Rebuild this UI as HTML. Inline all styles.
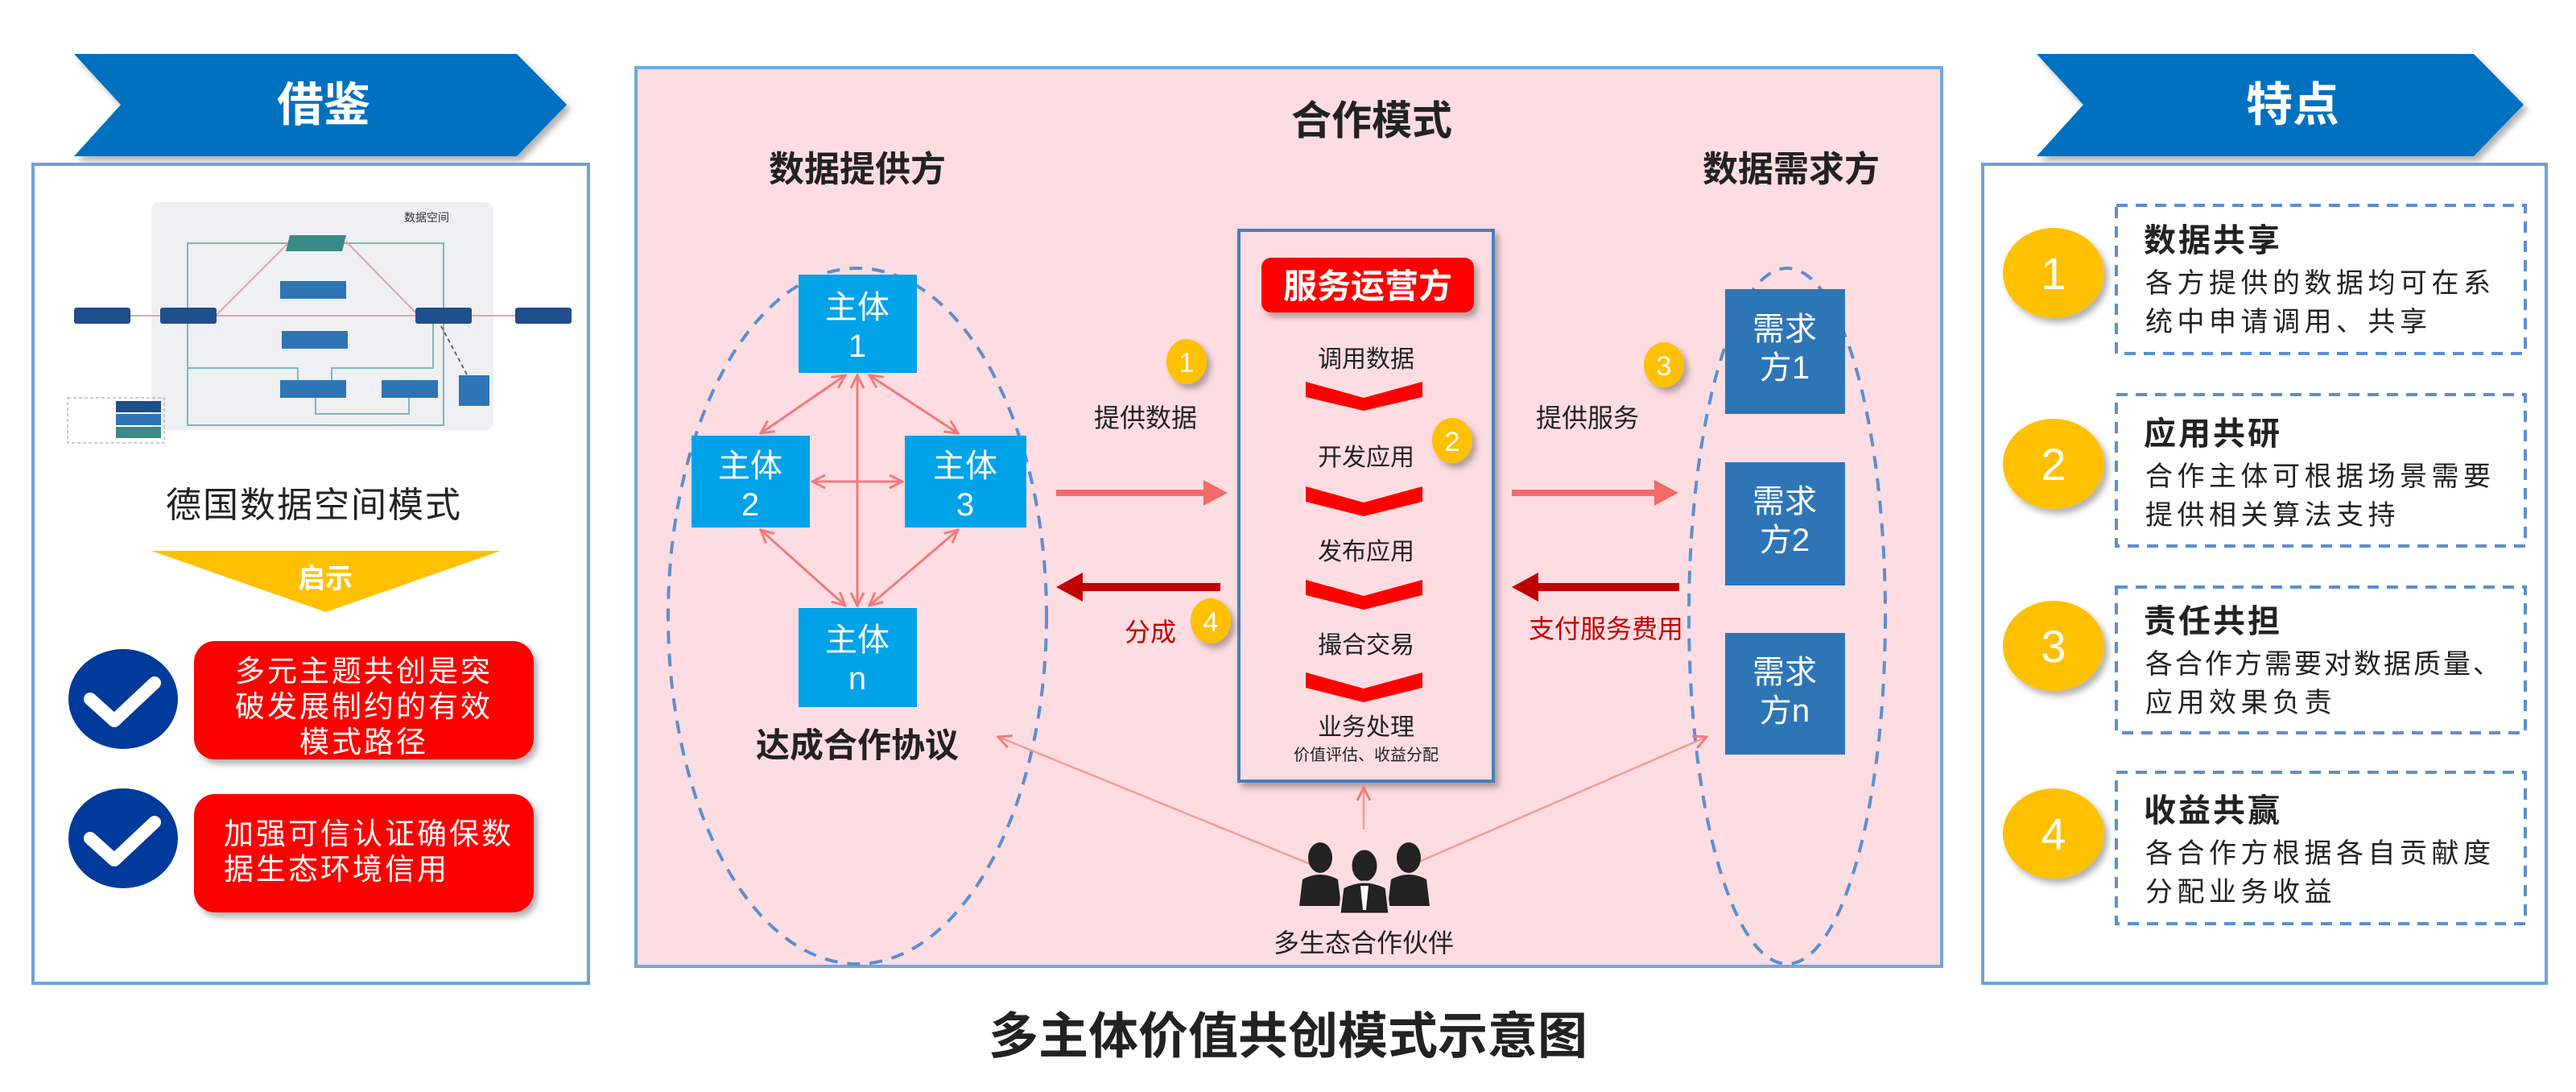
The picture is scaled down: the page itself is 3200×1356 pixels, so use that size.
<!DOCTYPE html>
<html><head><meta charset="utf-8"><style>
html,body{margin:0;padding:0;background:#fff;width:3200px;height:1356px;overflow:hidden}
svg text{font-family:"Liberation Sans","Noto Sans CJK SC",sans-serif}
</style></head><body>
<svg width="3200" height="1356" viewBox="0 0 3200 1356" xmlns="http://www.w3.org/2000/svg">
<defs>
<marker id="aps" markerWidth="20" markerHeight="20" refX="18" refY="10" orient="auto-start-reverse" markerUnits="userSpaceOnUse"><path d="M2,2 L18,10 L2,18" fill="none" stroke="#f07a7a" stroke-width="3"/></marker>
<filter id="sh" x="-10%" y="-10%" width="130%" height="140%"><feDropShadow dx="5" dy="6" stdDeviation="4" flood-color="#000" flood-opacity="0.3"/></filter>
</defs>

<!-- Left banner -->
<polygon points="92,67 642,67 704,130 642,194 92,194 150,130" fill="#0070c0" filter="url(#sh)"/>
<text x="402" y="150" font-size="58" font-weight="bold" fill="#fff" text-anchor="middle">借鉴</text>
<rect x="41" y="204" width="690" height="1017" fill="#fff" stroke="#6fa2d8" stroke-width="4"/>

<!-- German diagram thumbnail -->
<rect x="188" y="251" width="425" height="283" rx="10" fill="#eef0f2"/>
<text x="530" y="275" font-size="14" fill="#333" text-anchor="middle">数据空间</text>
<g fill="none" stroke="#7fb7b7" stroke-width="2">
<rect x="233" y="302" width="318" height="226"/>
<polyline points="233,457 370,457 370,478"/>
<polyline points="412,478 412,457 538,457 538,400"/>
<polyline points="392,494 392,514 508,514 508,494"/>
</g>
<g stroke="#e6a0b0" stroke-width="2">
<line x1="162" y1="392" x2="680" y2="392"/>
<line x1="268" y1="392" x2="360" y2="300"/>
<line x1="430" y1="300" x2="520" y2="392"/>
</g>
<line x1="548" y1="405" x2="580" y2="465" stroke="#666" stroke-width="2" stroke-dasharray="5,4"/>
<g fill="#1f4e8c">
<rect x="92" y="382" width="70" height="20" rx="3"/>
<rect x="199" y="382" width="70" height="20" rx="3"/>
<rect x="516" y="382" width="70" height="20" rx="3"/>
<rect x="640" y="382" width="70" height="20" rx="3"/>
<rect x="348" y="349" width="82" height="22" fill="#2e75b6"/>
<rect x="350" y="411" width="82" height="22" fill="#2e75b6"/>
<rect x="348" y="472" width="82" height="22" fill="#2e75b6"/>
<rect x="474" y="472" width="70" height="22" fill="#2e75b6"/>
<rect x="570" y="466" width="38" height="38" fill="#2e75b6"/>
<polygon points="360,292 430,292 425,312 355,312" fill="#3a8a8a"/>
</g>
<rect x="84" y="494" width="120" height="56" fill="none" stroke="#999" stroke-dasharray="4,3"/>
<rect x="144" y="498" width="56" height="14" fill="#1f4e8c"/><rect x="144" y="514" width="56" height="14" fill="#2e75b6"/><rect x="144" y="530" width="56" height="14" fill="#3a8a8a"/>

<text x="390" y="642" font-size="44" letter-spacing="2" fill="#222" text-anchor="middle">德国数据空间模式</text>
<polygon points="188,684 622,684 405,760" fill="#ffc000"/>
<text x="404" y="730" font-size="34" font-weight="bold" fill="#fff" text-anchor="middle">启示</text>

<ellipse cx="153" cy="868" rx="68" ry="62" fill="#003a9b"/>
<polyline points="112,868 142,895 192,848" fill="none" stroke="#fff" stroke-width="16" stroke-linecap="round" stroke-linejoin="round"/>
<ellipse cx="153" cy="1041" rx="68" ry="62" fill="#003a9b"/>
<polyline points="112,1041 142,1068 192,1021" fill="none" stroke="#fff" stroke-width="16" stroke-linecap="round" stroke-linejoin="round"/>
<rect x="241" y="796" width="422" height="147" rx="26" fill="#f00" filter="url(#sh)"/>
<text font-size="37" letter-spacing="3" fill="#fff" text-anchor="middle"><tspan x="452" y="846">多元主题共创是突</tspan><tspan x="452" y="890">破发展制约的有效</tspan><tspan x="452" y="934">模式路径</tspan></text>
<rect x="241" y="986" width="422" height="147" rx="26" fill="#f00" filter="url(#sh)"/>
<text font-size="37" letter-spacing="3" fill="#fff"><tspan x="278" y="1048">加强可信认证确保数</tspan><tspan x="278" y="1092">据生态环境信用</tspan></text>

<!-- Middle panel -->
<rect x="790" y="84" width="1622" height="1116" fill="#fddde2" stroke="#6fa8dc" stroke-width="4"/>
<text x="1704" y="167" font-size="50" font-weight="bold" fill="#222" text-anchor="middle">合作模式</text>
<text x="1065" y="225" font-size="44" font-weight="bold" fill="#222" text-anchor="middle">数据提供方</text>
<text x="2225" y="225" font-size="44" font-weight="bold" fill="#222" text-anchor="middle">数据需求方</text>

<ellipse cx="1065" cy="765" rx="235" ry="432" fill="none" stroke="#5b8fd0" stroke-width="4" stroke-dasharray="16,12"/>
<ellipse cx="2220" cy="765" rx="122" ry="432" fill="none" stroke="#5b8fd0" stroke-width="4" stroke-dasharray="16,12"/>

<g stroke="#f07a7a" stroke-width="3" marker-end="url(#aps)" marker-start="url(#aps)">
<line x1="1065" y1="466" x2="1065" y2="752"/>
<line x1="1050" y1="466" x2="945" y2="538"/>
<line x1="1080" y1="466" x2="1190" y2="538"/>
<line x1="1009" y1="598" x2="1121" y2="598"/>
<line x1="945" y1="658" x2="1050" y2="752"/>
<line x1="1190" y1="658" x2="1080" y2="752"/>
</g>
<g fill="#00a2e8">
<rect x="992" y="341" width="147" height="122"/>
<rect x="859" y="541" width="147" height="114"/>
<rect x="1124" y="541" width="151" height="114"/>
<rect x="992" y="755" width="147" height="123"/>
</g>
<g font-size="40" fill="#fff" text-anchor="middle">
<text x="1065" y="395">主体</text><text x="1065" y="443">1</text>
<text x="932" y="592">主体</text><text x="932" y="640">2</text>
<text x="1199" y="592">主体</text><text x="1199" y="640">3</text>
<text x="1065" y="808">主体</text><text x="1065" y="856">n</text>
</g>
<text x="1065" y="940" font-size="42" font-weight="bold" fill="#222" text-anchor="middle">达成合作协议</text>

<!-- service box -->
<rect x="1539" y="286" width="316" height="684" fill="#fddde2" stroke="#4a7ebb" stroke-width="4" filter="url(#sh)"/>
<rect x="1567" y="320" width="264" height="68" rx="12" fill="#f00" filter="url(#sh)"/>
<text x="1699" y="370" font-size="42" font-weight="bold" fill="#fff" text-anchor="middle">服务运营方</text>
<g font-size="30" fill="#222" text-anchor="middle">
<text x="1697" y="456">调用数据</text>
<text x="1697" y="578">开发应用</text>
<text x="1697" y="695">发布应用</text>
<text x="1697" y="811">撮合交易</text>
<text x="1697" y="913">业务处理</text>
</g>
<text x="1697" y="944" font-size="20" fill="#222" text-anchor="middle">价值评估、收益分配</text>
<g fill="#f00">
<polygon points="1622,474 1694,494 1767,474 1767,493 1694,510 1622,493"/>
<polygon points="1622,604 1694,624 1767,604 1767,623 1694,641 1622,623"/>
<polygon points="1622,720 1694,740 1767,720 1767,739 1694,757 1622,739"/>
<polygon points="1622,835 1694,855 1767,835 1767,854 1694,872 1622,854"/>
</g>

<!-- flow arrows -->
<line x1="1312" y1="612" x2="1500" y2="612" stroke="#f46a6a" stroke-width="8"/>
<polygon points="1495,596 1525,612 1495,628" fill="#f46a6a"/>
<text x="1423" y="530" font-size="32" fill="#222" text-anchor="middle">提供数据</text>
<line x1="1878" y1="612" x2="2060" y2="612" stroke="#f46a6a" stroke-width="8"/>
<polygon points="2055,596 2085,612 2055,628" fill="#f46a6a"/>
<text x="1972" y="530" font-size="32" fill="#222" text-anchor="middle">提供服务</text>
<line x1="1340" y1="729" x2="1516" y2="729" stroke="#c00000" stroke-width="10"/>
<polygon points="1345,711 1312,729 1345,747" fill="#c00000"/>
<text x="1429" y="796" font-size="32" fill="#c00000" text-anchor="middle">分成</text>
<line x1="1906" y1="729" x2="2086" y2="729" stroke="#c00000" stroke-width="10"/>
<polygon points="1911,711 1878,729 1911,747" fill="#c00000"/>
<text x="1995" y="792" font-size="32" fill="#c00000" text-anchor="middle">支付服务费用</text>

<!-- numbered circles -->
<g filter="url(#sh)" fill="#ffc000">
<ellipse cx="1474" cy="449" rx="25" ry="28"/>
<ellipse cx="1804" cy="547" rx="25" ry="28"/>
<ellipse cx="2067" cy="453" rx="25" ry="28"/>
<ellipse cx="1504" cy="771" rx="25" ry="28"/>
</g>
<g font-size="34" fill="#fff" text-anchor="middle">
<text x="1474" y="462">1</text><text x="1804" y="560">2</text><text x="2067" y="466">3</text><text x="1504" y="784">4</text>
</g>

<!-- demand boxes -->
<g fill="#2e75b6">
<rect x="2143" y="359" width="149" height="155"/>
<rect x="2143" y="574" width="149" height="153"/>
<rect x="2143" y="786" width="149" height="151"/>
</g>
<g font-size="40" fill="#fff" text-anchor="middle">
<text x="2217" y="422">需求</text><text x="2217" y="470">方1</text>
<text x="2217" y="636">需求</text><text x="2217" y="684">方2</text>
<text x="2217" y="848">需求</text><text x="2217" y="896">方n</text>
</g>

<!-- partner lines -->
<g stroke="#f29a9a" stroke-width="2.5" fill="none">
<line x1="1645" y1="1080" x2="1240" y2="915" marker-end="url(#aps)"/>
<line x1="1740" y1="1080" x2="2120" y2="915" marker-end="url(#aps)"/>
<line x1="1694" y1="1030" x2="1694" y2="978" marker-end="url(#aps)"/>
</g>
<!-- people icon -->
<g fill="#222">
<ellipse cx="1640" cy="1065" rx="15" ry="19"/>
<ellipse cx="1750" cy="1065" rx="15" ry="19"/>
<path d="M1614,1125 L1618,1092 Q1640,1080 1662,1092 L1666,1125Z"/>
<path d="M1724,1125 L1728,1092 Q1750,1080 1772,1092 L1776,1125Z"/>
<ellipse cx="1695" cy="1075" rx="17" ry="21" stroke="#fddde2" stroke-width="3"/>
<path d="M1664,1135 L1668,1102 Q1695,1088 1722,1102 L1726,1135Z" stroke="#fddde2" stroke-width="3"/>
</g>
<polygon points="1690,1100 1700,1100 1697,1130 1693,1130" fill="#fff"/>
<text x="1694" y="1182" font-size="32" fill="#222" text-anchor="middle">多生态合作伙伴</text>

<!-- Right banner -->
<polygon points="2530,67 3073,67 3135,130 3073,194 2530,194 2588,130" fill="#0070c0" filter="url(#sh)"/>
<text x="2848" y="150" font-size="58" font-weight="bold" fill="#fff" text-anchor="middle">特点</text>
<rect x="2463" y="204" width="700" height="1017" fill="#fff" stroke="#6fa2d8" stroke-width="4"/>

<g fill="none" stroke="#5b8fd0" stroke-width="4" stroke-dasharray="14,10">
<rect x="2629" y="255" width="508" height="184"/>
<rect x="2629" y="490" width="508" height="188"/>
<rect x="2629" y="729" width="508" height="181"/>
<rect x="2629" y="959" width="508" height="188"/>
</g>
<g fill="#ffc000" filter="url(#sh)">
<ellipse cx="2551" cy="339" rx="63" ry="56"/>
<ellipse cx="2551" cy="576" rx="63" ry="56"/>
<ellipse cx="2551" cy="802" rx="63" ry="56"/>
<ellipse cx="2551" cy="1035" rx="63" ry="56"/>
</g>
<g font-size="56" fill="#fff" text-anchor="middle">
<text x="2551" y="359">1</text><text x="2551" y="596">2</text><text x="2551" y="822">3</text><text x="2551" y="1055">4</text>
</g>
<g fill="#222">
<text x="2663" y="312" font-size="40" font-weight="bold" letter-spacing="3">数据共享</text>
<text font-size="34" letter-spacing="5.5"><tspan x="2665" y="363">各方提供的数据均可在系</tspan><tspan x="2665" y="411">统中申请调用、共享</tspan></text>
<text x="2663" y="552" font-size="40" font-weight="bold" letter-spacing="3">应用共研</text>
<text font-size="34" letter-spacing="5.5"><tspan x="2665" y="603">合作主体可根据场景需要</tspan><tspan x="2665" y="651">提供相关算法支持</tspan></text>
<text x="2663" y="785" font-size="40" font-weight="bold" letter-spacing="3">责任共担</text>
<text font-size="34" letter-spacing="3"><tspan x="2665" y="836">各合作方需要对数据质量、</tspan><tspan x="2665" y="884" letter-spacing="5.5">应用效果负责</tspan></text>
<text x="2663" y="1020" font-size="40" font-weight="bold" letter-spacing="3">收益共赢</text>
<text font-size="34" letter-spacing="5.5"><tspan x="2665" y="1071">各合作方根据各自贡献度</tspan><tspan x="2665" y="1119">分配业务收益</tspan></text>
</g>

<text x="1600" y="1308" font-size="62" font-weight="bold" fill="#222" text-anchor="middle">多主体价值共创模式示意图</text>
</svg>
</body></html>
